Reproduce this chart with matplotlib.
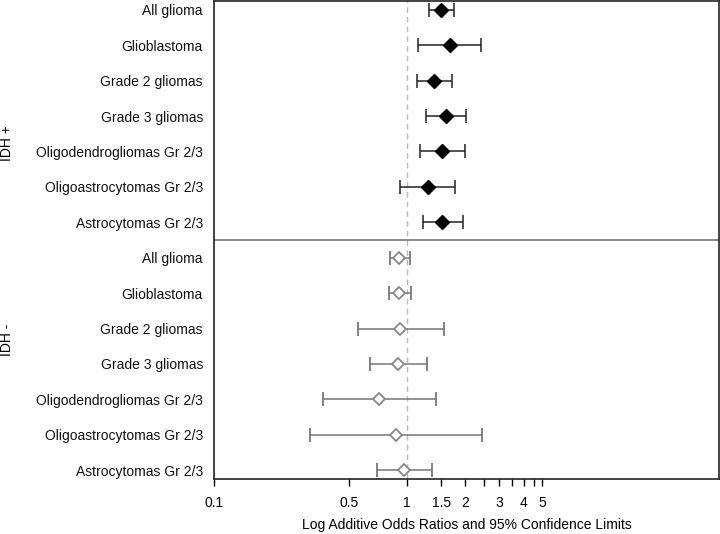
import matplotlib
matplotlib.use('Agg')
import numpy as np
from matplotlib import pyplot as plt
from matplotlib.ticker import FixedLocator, NullLocator

plt.rcParams['font.family'] = ['Liberation Sans', 'DejaVu Sans']

subtypes = ['All glioma', 'Glioblastoma', 'Grade 2 gliomas', 'Grade 3 gliomas',
            'Oligodendrogliomas Gr 2/3', 'Oligoastrocytomas Gr 2/3', 'Astrocytomas Gr 2/3']

# IDH + estimates
pos_or = [1.49, 1.66, 1.37, 1.58, 1.51, 1.28, 1.52]
pos_lo = [1.29, 1.135, 1.12, 1.25, 1.17, 0.92, 1.20]
pos_hi = [1.74, 2.41, 1.70, 2.01, 1.98, 1.77, 1.94]

# IDH - estimates
neg_or = [0.91, 0.91, 0.92, 0.894, 0.716, 0.87, 0.96]
neg_lo = [0.81, 0.80, 0.557, 0.64, 0.367, 0.314, 0.696]
neg_hi = [1.03, 1.05, 1.55, 1.27, 1.40, 2.45, 1.34]

tick_vals = [0.1, 0.5, 1, 1.5, 2, 2.5, 3, 3.5, 4, 4.5, 5]
tick_labels = ['0.1', '0.5', '1', '1.5', '2', '', '3', '', '4', '', '5']

fig = plt.figure(figsize=(7.2, 5.34), dpi=100)
ax = fig.add_axes([214/720, 1-479/534, 505/720, 478/534])

y_pos = np.arange(7)
y_neg = np.arange(7, 14)

ax.axvline(1, color='#bbbbbb', ls=(0, (4, 3)), lw=1, zorder=1)
ax.axhline(6.5, color='#777777', lw=1.2, zorder=1)

pos_or = np.array(pos_or); neg_or = np.array(neg_or)
ax.errorbar(pos_or, y_pos,
            xerr=[pos_or - np.array(pos_lo), np.array(pos_hi) - pos_or],
            fmt='D', color='black', ms=7, mfc='black', mec='black',
            ecolor='#222222', elinewidth=1.1, capsize=5, capthick=1.1, zorder=3)
ax.errorbar(neg_or, y_neg,
            xerr=[neg_or - np.array(neg_lo), np.array(neg_hi) - neg_or],
            fmt='D', color='#888888', ms=6.5, mfc='white', mec='#888888', mew=1.3,
            ecolor='#777777', elinewidth=1.1, capsize=5, capthick=1.1, zorder=3)

ax.set_xscale('log')
ax.set_xlim(0.1, 41)
ax.set_ylim(13.25, -0.25)
ax.xaxis.set_major_locator(FixedLocator(tick_vals))
ax.set_xticklabels(tick_labels)
ax.xaxis.set_minor_locator(NullLocator())
ax.set_yticks(list(y_pos) + list(y_neg))
ax.set_yticklabels(subtypes + subtypes)
ax.tick_params(axis='y', length=0, pad=8, labelsize=10, colors='#111111')
ax.tick_params(axis='x', direction='out', length=5, width=1, pad=7, labelsize=10)
for s in ax.spines.values():
    s.set_linewidth(1.2)
    s.set_color('#222222')

ax.set_xlabel('Log Additive Odds Ratios and 95% Confidence Limits', fontsize=10, labelpad=6)

fig.text(7/720, 1-143/534, 'IDH +', rotation=90, ha='center', va='center', fontsize=10)
fig.text(7/720, 1-340/534, 'IDH -', rotation=90, ha='center', va='center', fontsize=10)

fig.savefig('out.png', dpi=100)
